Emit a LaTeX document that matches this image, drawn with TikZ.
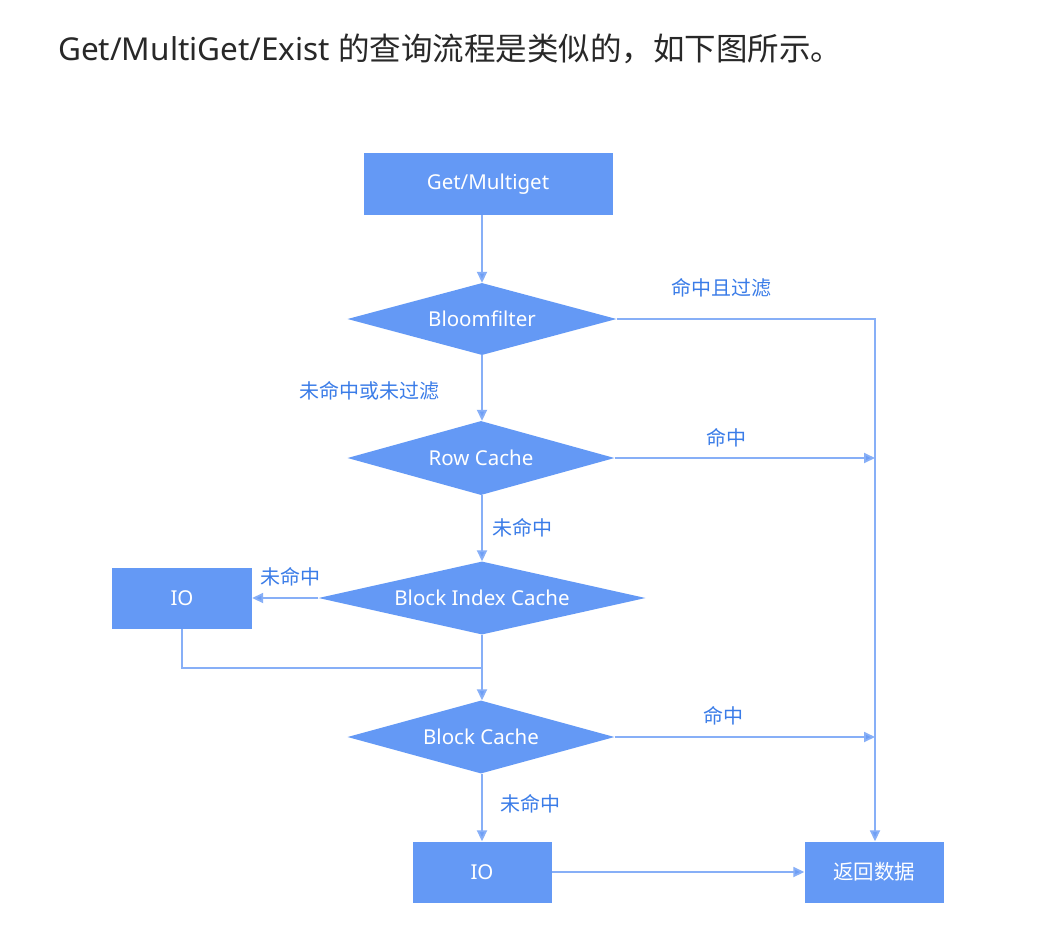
\documentclass[tikz,border=0pt]{standalone}
\usepackage{fontspec}
\setmainfont{Noto Sans}
\newfontfamily\cjk{Noto Sans CJK SC}
\usetikzlibrary{shapes.geometric,arrows.meta}
\definecolor{boxblue}{RGB}{100,153,245}
\definecolor{lineblue}{RGB}{135,175,247}
\definecolor{tipblue}{RGB}{110,158,245}
\definecolor{labblue}{RGB}{58,124,232}
\definecolor{headgray}{RGB}{40,40,40}
\tikzset{
  procbox/.style={rectangle, fill=boxblue, draw=none, text=white, font=\fontsize{20.5}{24}\selectfont, inner sep=0pt},
  decision/.style={diamond, fill=boxblue, draw=none, text=white, font=\fontsize{20.5}{24}\selectfont, inner sep=0pt},
  conn/.style={draw=lineblue, line width=1.8pt},
  arr/.style={conn, -{Triangle[length=11pt,width=10pt,fill=tipblue]}},
  lab/.style={text=labblue, font=\cjk\fontsize{20}{22}\selectfont, inner sep=0pt},
}
\begin{document}
\begin{tikzpicture}[x=1pt,y=-1pt]
\useasboundingbox (0,0) rectangle (1042,938);
\fill[white] (0,0) rectangle (1042,938);
% header
\node[anchor=base west, inner sep=0pt, text=headgray, font=\fontsize{31.5}{36}\selectfont] (head) at (58,60) {Get/MultiGet/Exist {\cjk 的查询流程是类似的，如下图所示。}};
% nodes
\node[procbox, minimum width=249pt, minimum height=62pt] (get) at (488,184) {Get/Multiget};
\node[decision, minimum width=269pt, minimum height=72pt, aspect=3.7] (bloom) at (482,319) {Bloomfilter};
\node[decision, minimum width=267pt, minimum height=74pt, aspect=3.6] (row) at (481,458) {Row Cache};
\node[decision, minimum width=327pt, minimum height=73pt, aspect=4.5] (bic) at (482,598) {Block Index Cache};
\node[procbox, minimum width=140pt, minimum height=61pt] (io1) at (182,598) {IO};
\node[decision, minimum width=267pt, minimum height=73pt, aspect=3.65] (blk) at (481,737) {Block Cache};
\node[procbox, minimum width=139pt, minimum height=61pt] (io2) at (482,872) {IO};
\node[procbox, minimum width=139pt, minimum height=61pt, font=\cjk\fontsize{20.5}{24}\selectfont] (ret) at (874,872) {返回数据};
% helper coordinates
\coordinate (rb) at (875,319);
\coordinate (rr) at (875,458);
\coordinate (rk) at (875,737);
\coordinate (jn) at (482,668);
\coordinate (jio) at (182,668);
% connectors
\draw[arr] (get.south -| bloom.north) -- (bloom.north);
\draw[arr] (bloom.east) -- (rb) -- (ret.north -| rb);
\draw[arr] (bloom.south) -- (row.north -| bloom.south);
\draw[arr] (row.east) -- (rr);
\draw[arr] (row.south -| bic.north) -- (bic.north);
\draw[arr] (bic.west) -- (io1.east);
\draw[conn] (io1.south) -- (jio) -- (jn);
\draw[arr] (bic.south) -- (blk.north -| bic.south);
\draw[arr] (blk.east) -- (rk);
\draw[arr] (blk.south -| io2.north) -- (io2.north);
\draw[arr] (io2.east) -- (ret.west);
% labels
\node[lab] (l1) at (721,288) {命中且过滤};
\node[lab] (l2) at (369,391) {未命中或未过滤};
\node[lab] (l3) at (726,438) {命中};
\node[lab] (l4) at (522,528) {未命中};
\node[lab] (l5) at (290,577) {未命中};
\node[lab] (l6) at (723,716) {命中};
\node[lab] (l7) at (530,804) {未命中};
\end{tikzpicture}
\end{document}
